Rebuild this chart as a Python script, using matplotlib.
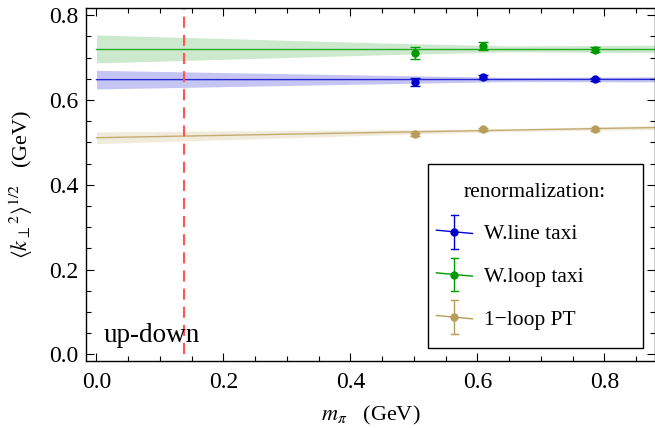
import matplotlib.pyplot as plt
from matplotlib.legend_handler import HandlerBase
from matplotlib.lines import Line2D

plt.rcParams['font.family'] = ['Liberation Serif', 'DejaVu Serif']
plt.rcParams['mathtext.fontset'] = 'stix'

# lattice data points
m_pi = [0.501, 0.609, 0.785]
k_line = [0.643, 0.654, 0.649]
k_line_err = [0.009, 0.005, 0.004]
k_loop = [0.710, 0.728, 0.719]
k_loop_err = [0.014, 0.009, 0.005]
k_pt = [0.519, 0.531, 0.531]
k_pt_err = [0.004, 0.003, 0.003]

# fit lines with error bands
fit_x = [0.0, 0.45, 0.65, 0.9]
fit_line = [0.648, 0.6482, 0.6484, 0.6486]
fit_line_err = [0.022, 0.010, 0.005, 0.006]
fit_loop = [0.7205, 0.7205, 0.7205, 0.7205]
fit_loop_err = [0.033, 0.014, 0.007, 0.009]
fit_pt = [0.511, 0.5235, 0.529, 0.5355]
fit_pt_err = [0.014, 0.006, 0.003, 0.005]

phys_mpi = 0.138

labels = ['W.line taxi', 'W.loop taxi', '1\u2212loop PT']
colors = ['#0000cc', '#009a00', '#b89c5a']
band_colors = ['#8080e6', '#90d090', '#e0d4b0']


class FitHandler(HandlerBase):
    # errorbar point plus a slanted fit line, like the original legend
    def create_artists(self, legend, orig_handle, xdescent, ydescent,
                       width, height, fontsize, trans):
        c = orig_handle.get_color()
        xm = 6 - xdescent
        ym = height / 2 - ydescent
        h = 12.2
        cap = 2.6
        arts = [
            Line2D([xm - 13, xm + 13], [ym + 1.2, ym - 1.2], color=c, lw=1),
            Line2D([xm, xm], [ym - h, ym + h], color=c, lw=1),
            Line2D([xm - cap, xm + cap], [ym + h, ym + h], color=c, lw=1),
            Line2D([xm - cap, xm + cap], [ym - h, ym - h], color=c, lw=1),
            Line2D([xm], [ym], marker='o', ms=5, color=c),
        ]
        for a in arts:
            a.set_transform(trans)
        return arts


fig = plt.figure(figsize=(6.55, 4.28), dpi=100)
ax = fig.add_axes([0.1313, 0.1565, 0.869, 0.8248])

series = [
    (k_line, k_line_err, fit_line, fit_line_err),
    (k_loop, k_loop_err, fit_loop, fit_loop_err),
    (k_pt, k_pt_err, fit_pt, fit_pt_err),
]
handles = []
for (y, yerr, fy, ferr), c, bc in zip(series, colors, band_colors):
    lo = [a - b for a, b in zip(fy, ferr)]
    hi = [a + b for a, b in zip(fy, ferr)]
    ax.fill_between(fit_x, lo, hi, color=bc, alpha=0.45, lw=0)
    ax.plot(fit_x, fy, color=c, lw=1.0, alpha=0.8)
    ax.errorbar(m_pi, y, yerr=yerr, fmt='o', color=c, ms=5, capsize=3.5,
                elinewidth=1, capthick=1)
    handles.append(Line2D([], [], color=c))

ax.plot([phys_mpi, phys_mpi], [0.0, 0.82], color='#ff5555', lw=1.5,
        dashes=(5.3, 3.4))

ax.text(0.0105, 0.029, 'up-down', fontsize=19.5, va='baseline')

ax.set_xlim(-0.0165, 0.88)
ax.set_ylim(-0.0158, 0.817)
ax.set_xticks([0.0, 0.2, 0.4, 0.6, 0.8])
ax.set_xticklabels(['0.0', '0.2', '0.4', '0.6', '0.8'])
ax.set_yticks([0.0, 0.2, 0.4, 0.6, 0.8])
ax.set_yticklabels(['0.0', '0.2', '0.4', '0.6', '0.8'])
ax.set_xticks([i * 0.05 for i in range(18)], minor=True)
ax.set_yticks([i * 0.05 for i in range(17)], minor=True)
ax.tick_params(which='both', direction='in', top=True, right=True,
               labelsize=17, width=0.8)
ax.tick_params(which='major', length=6)
ax.tick_params(which='minor', length=3.5)
ax.tick_params(axis='x', which='major', pad=8)
ax.tick_params(axis='y', which='major', pad=5.5)
for s in ax.spines.values():
    s.set_linewidth(1.0)

ax.set_xlabel(r'$m_\pi$   (GeV)', fontsize=16, labelpad=8)
ax.set_ylabel(r'$\langle {k_\perp}^2 \rangle^{1/2}$   (GeV)', fontsize=16,
              labelpad=10)

leg = ax.legend(handles, labels, title='renormalization:',
                handler_map={Line2D: FitHandler()},
                loc='upper left', bbox_to_anchor=(0.6005, 0.05, 0.3772, 0.507),
                mode='expand',
                fontsize=15.5, title_fontsize=15.5, frameon=True, fancybox=False,
                edgecolor='black', framealpha=1, borderpad=0.85,
                labelspacing=1.05, handlelength=1.5, handletextpad=0.25,
                borderaxespad=0)
leg.get_frame().set_linewidth(1.0)
leg._legend_box.align = 'center'

fig.savefig('out.png', dpi=100)
